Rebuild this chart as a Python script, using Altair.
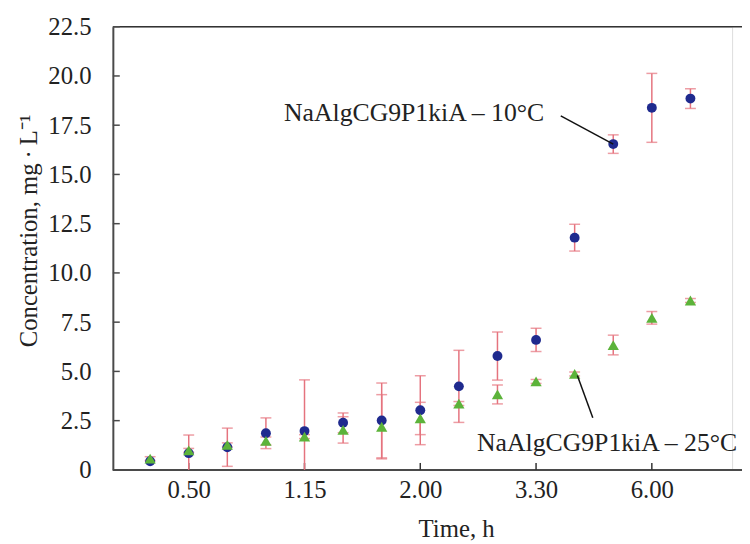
import altair as alt
import pandas as pd

# ---- data ----
sample_idx = list(range(15))
conc_10 = [0.44, 0.85, 1.15, 1.86, 1.97, 2.39, 2.51, 3.03, 4.24, 5.78, 6.60, 11.79, 16.54, 18.38, 18.85]
sd_10 = [0.0, 0.92, 0.97, 0.78, 2.60, 0.50, 1.90, 1.75, 1.83, 1.22, 0.59, 0.68, 0.47, 1.75, 0.50]
conc_25 = [0.57, 0.99, 1.27, 1.47, 1.69, 2.03, 2.19, 2.61, 3.37, 3.83, 4.49, 4.87, 6.34, 7.72, 8.60]
sd_25 = [0.10, 0.10, 0.10, 0.20, 0.10, 0.67, 1.63, 0.82, 0.10, 0.48, 0.10, 0.10, 0.50, 0.32, 0.10]

x_tick_pos = [1, 4, 7, 10, 13]
x_tick_labels = ["0.50", "1.15", "2.00", "3.30", "6.00"]
y_ticks = [0, 2.5, 5.0, 7.5, 10.0, 12.5, 15.0, 17.5, 20.0, 22.5]

ann_text = ["NaAlgCG9P1kiA – 10°C", "NaAlgCG9P1kiA – 25°C"]
ann_text_x = [10.21, 8.47]
ann_text_y = [17.73, 0.95]
ann_line_x = [10.64, 11.47]
ann_line_y = [17.97, 2.65]
ann_line_x2 = [12.0, 11.07]
ann_line_y2 = [16.54, 4.79]

# ---- tables ----
rows = []
for i, c, s in zip(sample_idx, conc_10, sd_10):
    rows.append({"idx": i, "conc": c, "sd": s, "series": "10"})
for i, c, s in zip(sample_idx, conc_25, sd_25):
    rows.append({"idx": i, "conc": c, "sd": s, "series": "25"})
df = pd.DataFrame(rows)
df["lo"] = (df["conc"] - df["sd"]).clip(lower=0)
df["hi"] = df["conc"] + df["sd"]
err = df[df["sd"] > 0]
caps = pd.concat([
    err[["idx", "lo"]].rename(columns={"lo": "cap"}),
    err[["idx", "hi"]].rename(columns={"hi": "cap"}),
])
caps = caps[caps["cap"] > 0.05]

FONT = "Liberation Serif"
W, H = 626, 448
xs = alt.Scale(domain=[-0.966, 15.08], nice=False, zero=False)
ys = alt.Scale(domain=[0, 22.5], nice=False, zero=True)

label_map = "{" + ",".join(f"'{p}':'{l}'" for p, l in zip(x_tick_pos, x_tick_labels)) + "}"
x_axis = alt.Axis(
    title="Time, h", values=x_tick_pos, labelExpr=f"{label_map}[''+datum.value]",
    ticks=False, domain=False, grid=False, labelPadding=8, titlePadding=14,
    titleX=347, labelFont=FONT, titleFont=FONT, labelFontSize=25, titleFontSize=25,
    labelColor="#222", titleColor="#222", titleFontWeight="normal",
)
y_axis = alt.Axis(
    title="Concentration, mg\u2009·\u2009L⁻¹", values=y_ticks,
    labelExpr="datum.value == 0 ? '0' : format(datum.value, '.1f')",
    ticks=False, domain=True, domainColor="#4a4a4a", domainWidth=2, grid=False,
    labelPadding=22, titlePadding=6, titleY=206,
    labelFont=FONT, titleFont=FONT, labelFontSize=25, titleFontSize=25,
    labelColor="#222", titleColor="#222", titleFontWeight="normal",
)

X = lambda f: alt.X(f, scale=xs, axis=x_axis)
Y = lambda f: alt.Y(f, scale=ys, axis=y_axis)

err_rule = alt.Chart(err).mark_rule(color="#e5737e", strokeWidth=1.5).encode(
    x=X("idx:Q"), y=Y("lo:Q"), y2="hi:Q"
)
err_caps = alt.Chart(caps).mark_tick(
    color="#e5737e", orient="horizontal", size=11, thickness=1.5
).encode(x=X("idx:Q"), y=Y("cap:Q"))

circles = alt.Chart(df[df["series"] == "10"]).mark_point(
    filled=True, shape="circle", size=100, color="#1f2a8e", opacity=1
).encode(x=X("idx:Q"), y=Y("conc:Q"))
triangles = alt.Chart(df[df["series"] == "25"]).mark_point(
    filled=True, shape="triangle-up", size=130, color="#5cb33a", opacity=1
).encode(x=X("idx:Q"), y=Y("conc:Q"))

ann = pd.DataFrame({
    "text": ann_text, "tx": ann_text_x, "ty": ann_text_y,
    "lx": ann_line_x, "ly": ann_line_y, "lx2": ann_line_x2, "ly2": ann_line_y2,
})
leaders = alt.Chart(ann).mark_rule(color="#111", strokeWidth=1.5).encode(
    x=X("lx:Q"), y=Y("ly:Q"), x2="lx2:Q", y2="ly2:Q"
)
text10 = alt.Chart(ann.iloc[[0]]).mark_text(
    align="right", baseline="alphabetic", font=FONT, fontSize=26, color="#222"
).encode(x=X("tx:Q"), y=Y("ty:Q"), text="text:N")
text25 = alt.Chart(ann.iloc[[1]]).mark_text(
    align="left", baseline="alphabetic", font=FONT, fontSize=26, color="#222"
).encode(x=X("tx:Q"), y=Y("ty:Q"), text="text:N")

# inward tick marks and frame lines
yt = pd.DataFrame({"v": [v for v in y_ticks if v > 0]})
y_tickmarks = alt.Chart(yt).mark_rule(color="#4a4a4a", strokeWidth=1.5).encode(
    x=alt.value(0), x2=alt.value(7), y=Y("v:Q")
)
xt = pd.DataFrame({"t": x_tick_pos})
x_tickmarks = alt.Chart(xt).mark_rule(color="#333", strokeWidth=1.5).encode(
    x=X("t:Q"), y=alt.value(H), y2=alt.value(H - 7)
)
one = pd.DataFrame({"a": [0]})
top_line = alt.Chart(one).mark_rule(color="#333", strokeWidth=1.5).encode(
    x=alt.value(0), x2=alt.value(W + 10), y=alt.value(0)
)
bottom_line = alt.Chart(one).mark_rule(color="#4a4a4a", strokeWidth=2).encode(
    x=alt.value(0), x2=alt.value(W + 10), y=alt.value(H)
)

chart = alt.layer(
    top_line, bottom_line, y_tickmarks, x_tickmarks,
    err_rule, err_caps, circles, triangles, leaders, text10, text25,
).properties(
    width=W, height=H,
    padding={"left": 106, "top": 16, "right": 10, "bottom": 72},
    autosize=alt.AutoSizeParams(type="none"),
).configure_view(stroke=None).configure(background="white")

chart.save("out.html", embed_options={"renderer": "svg", "actions": False})
